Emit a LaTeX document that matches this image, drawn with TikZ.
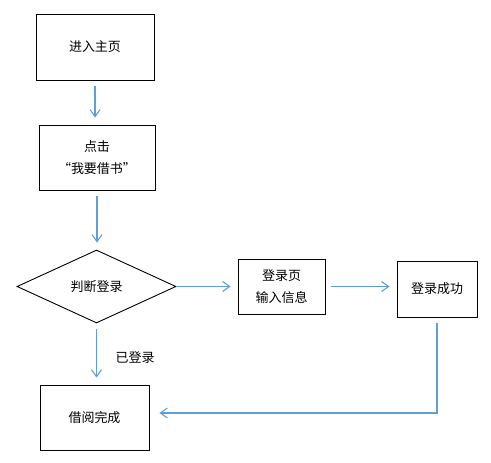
\documentclass[tikz,border=0pt]{standalone}
\usepackage{fontspec}
\setmainfont{Noto Sans CJK SC}
\usetikzlibrary{shapes.geometric,arrows.meta}
\definecolor{linkblue}{RGB}{95,158,215}
\begin{document}
\begin{tikzpicture}[x=1pt,y=-1pt,
  box/.style={draw=black,line width=0.9pt,inner sep=0pt,align=center,font=\fontsize{13}{22}\selectfont},
  decision/.style={draw=black,line width=0.9pt,shape=diamond,inner sep=0pt,aspect=2.18,minimum width=159pt,minimum height=73pt,font=\fontsize{13}{22}\selectfont},
  flow/.style={draw=linkblue,line width=1.1pt,-{Straight Barb[length=7pt,width=10pt]},shorten <=6pt,shorten >=7pt},
  lbl/.style={inner sep=0pt,font=\fontsize{13}{16}\selectfont}]
\useasboundingbox (0,0) rectangle (491,463);
\fill[white] (0,0) rectangle (491,463);
\node[box,minimum width=118pt,minimum height=66pt] (b1) at (95,47) {进入主页};
\node[box,minimum width=116pt,minimum height=65pt] (b2) at (97,157.5) {点击\\“我要借书”};
\node[decision] (d) at (96.5,286.5) {判断登录};
\node[box,minimum width=87pt,minimum height=55pt] (b3) at (281.5,286.5) {登录页\\输入信息};
\node[box,minimum width=80pt,minimum height=56pt] (b4) at (437,289) {登录成功};
\node[box,minimum width=109pt,minimum height=65pt] (b5) at (94.5,417.5) {借阅完成};
\node[lbl] (yes) at (135,358) {已登录};
\draw[flow] (b1.south) -- (b1.south |- b2.north);
\draw[flow] (b2.south) -- (b2.south |- d.north);
\draw[flow,shorten <=0pt] (d.east) -- (d.east -| b3.west);
\draw[flow] (b3.east) -- (b3.east -| b4.west);
\draw[flow] (d.south) -- (d.south |- b5.north);
\draw[flow,shorten >=10pt] (b4.south) -- ([yshift=4.5pt]b4.south |- b5.east) -- ([yshift=4.5pt]b5.east);
\end{tikzpicture}
\end{document}
